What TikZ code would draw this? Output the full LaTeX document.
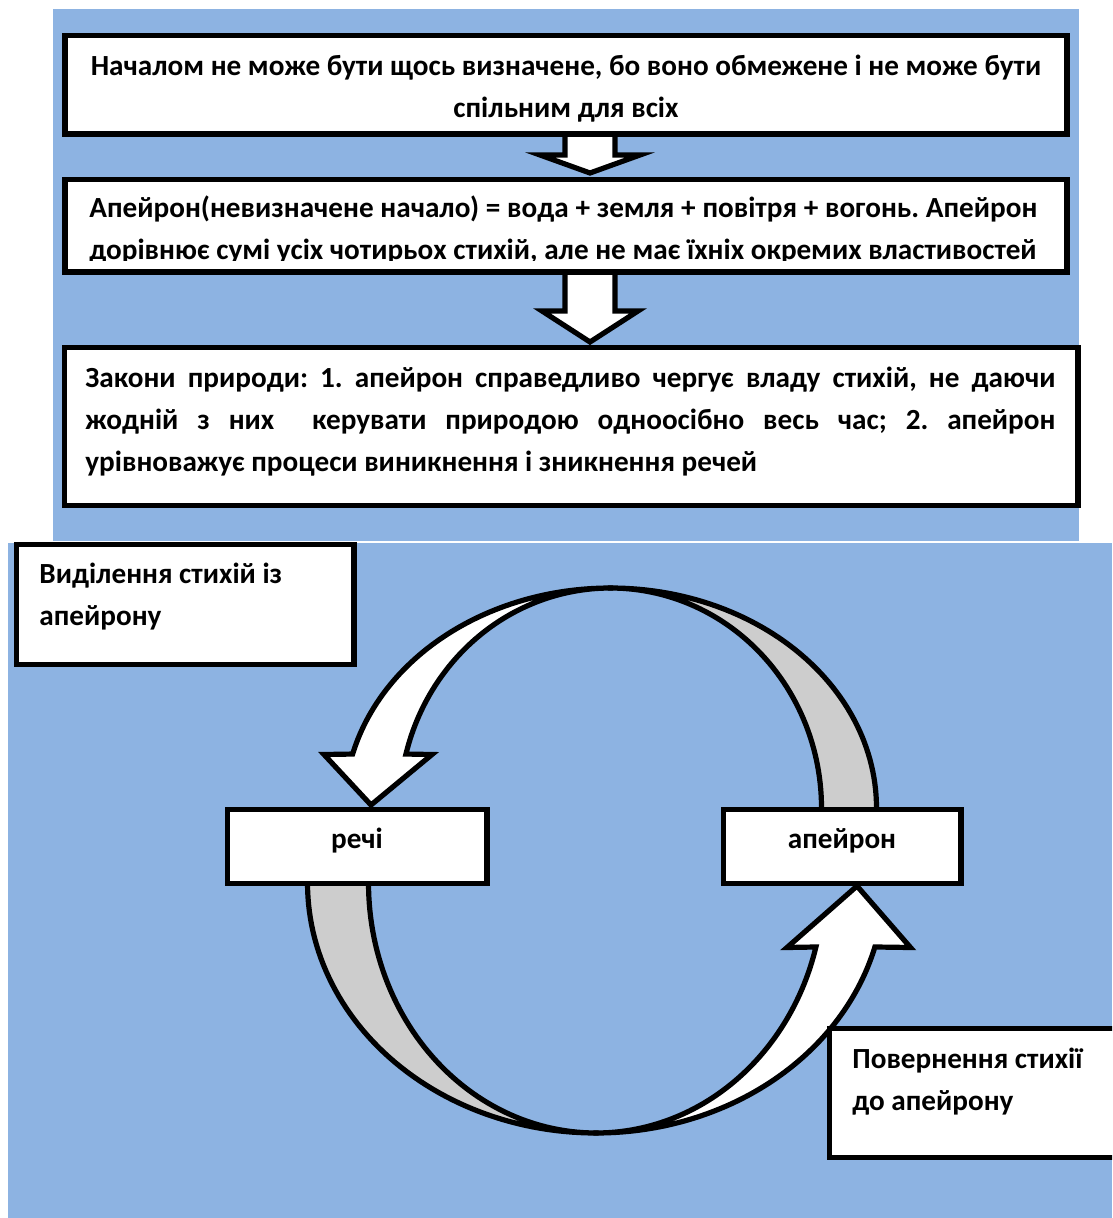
\documentclass[tikz,border=0pt]{standalone}
\usepackage{fontspec}
\setmainfont{Carlito}
\usetikzlibrary{calc,fit}
\definecolor{panel}{HTML}{8DB3E2}
\definecolor{bandgray}{HTML}{CDCDCD}
\frenchspacing
\begin{document}
\begin{tikzpicture}[x=0.5pt,y=-0.5pt,
  box/.style={draw=black, line width=2.6pt, fill=white, inner sep=0pt},
  txt/.style={font=\bfseries\fontsize{14.6pt}{21pt}\selectfont\frenchspacing, inner sep=0pt},
  blk/.style={draw=black, line width=2.6pt, fill=white, line join=miter},
  gblk/.style={draw=black, line width=2.6pt, fill=bandgray, line join=miter},
  pan/.style={fill=panel, draw=none}
  ]
\clip (0,0) rectangle (1112,1218);
\useasboundingbox (0,0) rectangle (1112,1218);
\fill[white] (0,0) rectangle (1112,1218);
% panels
\fill[pan] (53,9) rectangle (1079,540.5);
\fill[pan] (8,543) rectangle (1112,1218);

% straight block arrows
\draw[blk] (565,134) -- (565,155) -- (540,155) -- (590,173) -- (640,155) -- (615,155) -- (615,134);
\draw[blk] (565,272) -- (565,311) -- (542,311) -- (590,342) -- (638,311) -- (615,311) -- (615,272);

% upper curved arrow: grey back band then white band with head
\draw[gblk] plot[domain=-3:90, samples=60] ({610.5+266*cos(\x)},{808-220*sin(\x)})
  -- plot[domain=90:-3, samples=60] ({610.5+211*cos(\x)},{808-220*sin(\x)}) -- cycle;
\draw[blk] plot[domain=90:165.8, samples=60] ({610.5+266*cos(\x)},{808-220*sin(\x)})
  -- (324,754.5) -- (371,805) -- (432,754.5)
  -- plot[domain=165.8:90, samples=60] ({610.5+211*cos(\x)},{808-220*sin(\x)}) -- cycle;

% lower curved arrow
\draw[gblk] plot[domain=177:270, samples=60] ({596+288.5*cos(\x)},{883-250*sin(\x)})
  -- plot[domain=270:177, samples=60] ({596+227.5*cos(\x)},{883-250*sin(\x)}) -- cycle;
\draw[blk] plot[domain=270:345.17, samples=60] ({596+288.5*cos(\x)},{883-250*sin(\x)})
  -- (910.5,947.5) -- (857,886) -- (787,947.5)
  -- plot[domain=345.17:270, samples=60] ({596+227.5*cos(\x)},{883-250*sin(\x)}) -- cycle;

% boxes
\node[box, fit={(65,35.5) (1067,134)}] (b1) {};
\node[box, fit={(65,179.5) (1067,272)}] (b2) {};
\node[box, fit={(64.5,347.5) (1078,505.5)}] (b3) {};
\node[box, fit={(16.5,544.5) (354,664.5)}] (bl) {};
\node[box, fit={(227.5,809.5) (487,883.5)}] (br) {};
\node[box, fit={(723.5,809.5) (961,883.5)}] (ba) {};
\node[box, fit={(829.5,1028.5) (1130,1157.5)}] (bp) {};

% texts
\node[txt, anchor=base] (t1a) at (566,76) {Началом не може бути щось визначене, бо воно обмежене і не може бути};
\node[txt, anchor=base] (t1b) at (566,117.5) {спільним для всіх};
\node[txt, anchor=base west] (t2a) at (89,218) {\makebox[474pt][s]{Апейрон(невизначене начало) = вода + земля + повітря + вогонь. Апейрон}};
\begin{scope}
\clip (70,230) rectangle (1060,261);
\node[txt, anchor=base west] (t2b) at (89,260) {дорівнює сумі усіх чотирьох стихій, але не має їхніх окремих властивостей};
\end{scope}
\node[txt, anchor=base west] (t3a) at (85,388) {\makebox[485pt][s]{Закони природи: 1. апейрон справедливо чергує владу стихій, не даючи}};
\node[txt, anchor=base west] (t3b) at (85,430) {\makebox[485pt][s]{жодній з них \ керувати природою одноосібно весь час; 2. апейрон}};
\node[txt, anchor=base west] (t3c) at (85,472) {урівноважує процеси виникнення і зникнення речей};
\node[txt, anchor=base west] (tl1) at (39,583) {Виділення стихій із};
\node[txt, anchor=base west] (tl2) at (39,625) {апейрону};
\node[txt, anchor=base] (tr) at (357,848) {речі};
\node[txt, anchor=base] (ta) at (842,848) {апейрон};
\node[txt, anchor=base west] (tp1) at (852,1068) {Повернення стихії};
\node[txt, anchor=base west] (tp2) at (852,1110) {до апейрону};
\end{tikzpicture}
\end{document}
